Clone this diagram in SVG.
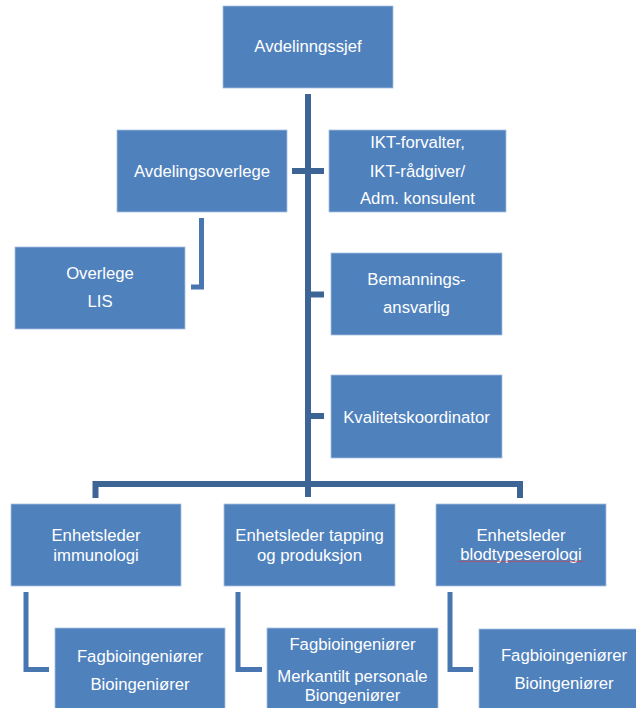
<svg xmlns="http://www.w3.org/2000/svg" width="636" height="708" viewBox="0 0 636 708">
<style>
.box{fill:#4F81BD;stroke:#A9C1E0;stroke-width:0.8}
.t{font-family:"Liberation Sans",Arial,sans-serif;font-size:16.7px;fill:#FFFFFF;text-anchor:middle}
.trunk{fill:none;stroke:#3C6595;stroke-width:6}
.elbow{fill:none;stroke:#4876B0;stroke-width:5}
</style>
<rect width="636" height="708" fill="#FFFFFF"/>
<g id="connectors">
<path class="trunk" d="M308,94 V497"/>
<path class="trunk" d="M292,171 H324"/>
<path class="trunk" d="M308,294.5 H324"/>
<path class="trunk" d="M308,416 H324"/>
<path class="trunk" d="M95.5,498 V484 H520 V498"/>
<path class="elbow" d="M201.5,218 V287 H191"/>
<path class="elbow" d="M26,592 V669.5 H49"/>
<path class="elbow" d="M238,592 V669.5 H262"/>
<path class="elbow" d="M450,592 V669.5 H473"/>
</g>
<g id="avdelingssjef">
<rect class="box" x="223" y="6" width="170" height="82"/>
<text class="t" x="308" y="52">Avdelinngssjef</text>
</g>
<g id="avdelingsoverlege">
<rect class="box" x="117" y="130" width="170" height="82"/>
<text class="t" x="202" y="177">Avdelingsoverlege</text>
</g>
<g id="ikt">
<rect class="box" x="329" y="130" width="177" height="82"/>
<text class="t" x="417.5" y="148">IKT-forvalter,</text>
<text class="t" x="417.5" y="176.5">IKT-rådgiver/</text>
<text class="t" x="417.5" y="204">Adm. konsulent</text>
</g>
<g id="overlege">
<rect class="box" x="15" y="247" width="170" height="82"/>
<text class="t" x="100" y="279">Overlege</text>
<text class="t" x="100" y="307">LIS</text>
</g>
<g id="bemanning">
<rect class="box" x="331" y="253" width="171" height="82"/>
<text class="t" x="416.5" y="285">Bemannings-</text>
<text class="t" x="416.5" y="313">ansvarlig</text>
</g>
<g id="kvalitet">
<rect class="box" x="331" y="375" width="171" height="83"/>
<text class="t" x="416.5" y="422.5">Kvalitetskoordinator</text>
</g>
<g id="enh-immunologi">
<rect class="box" x="11" y="504" width="170" height="82"/>
<text class="t" x="96" y="541">Enhetsleder</text>
<text class="t" x="96" y="561">immunologi</text>
</g>
<g id="enh-tapping">
<rect class="box" x="224" y="504" width="171" height="82"/>
<text class="t" x="309.5" y="541">Enhetsleder tapping</text>
<text class="t" x="309.5" y="561">og produksjon</text>
</g>
<g id="enh-blodtype">
<rect class="box" x="436" y="504" width="170" height="82"/>
<text class="t" x="521" y="541">Enhetsleder</text>
<text class="t" x="521" y="560">blodtypeserologi</text>
<path d="M458,562 l1.5,-1 l1.5,1 l1.5,-1 l1.5,1 l1.5,-1 l1.5,1 l1.5,-1 l1.5,1 l1.5,-1 l1.5,1 l1.5,-1 l1.5,1 l1.5,-1 l1.5,1 l1.5,-1 l1.5,1 l1.5,-1 l1.5,1 l1.5,-1 l1.5,1 l1.5,-1 l1.5,1 l1.5,-1 l1.5,1 l1.5,-1 l1.5,1 l1.5,-1 l1.5,1 l1.5,-1 l1.5,1 l1.5,-1 l1.5,1 l1.5,-1 l1.5,1 l1.5,-1 l1.5,1 l1.5,-1 l1.5,1 l1.5,-1 l1.5,1 l1.5,-1 l1.5,1 l1.5,-1 l1.5,1 l1.5,-1 l1.5,1 l1.5,-1 l1.5,1 l1.5,-1 l1.5,1 l1.5,-1 l1.5,1 l1.5,-1 l1.5,1 l1.5,-1 l1.5,1 l1.5,-1 l1.5,1 l1.5,-1 l1.5,1 l1.5,-1 l1.5,1 l1.5,-1 l1.5,1 l1.5,-1 l1.5,1 l1.5,-1 l1.5,1 l1.5,-1 l1.5,1 l1.5,-1 l1.5,1 l1.5,-1 l1.5,1 l1.5,-1 l1.5,1 l1.5,-1 l1.5,1 l1.5,-1 l1.5,1 l1.5,-1 l1.5,1 l1.5,-1 l1.5,1" fill="none" stroke="#D9413F" stroke-width="0.7"/>
</g>
<g id="staff-immunologi">
<rect class="box" x="55" y="628" width="170" height="82"/>
<text class="t" x="140" y="662">Fagbioingeniører</text>
<text class="t" x="140" y="690">Bioingeniører</text>
</g>
<g id="staff-tapping">
<rect class="box" x="267" y="628" width="171" height="82"/>
<text class="t" x="352.5" y="650">Fagbioingeniører</text>
<text class="t" x="352.5" y="682">Merkantilt personale</text>
<text class="t" x="352.5" y="701">Biongeniører</text>
</g>
<g id="staff-blodtype">
<rect class="box" x="479" y="629" width="170" height="82"/>
<text class="t" x="564" y="661">Fagbioingeniører</text>
<text class="t" x="564" y="689">Bioingeniører</text>
</g>
</svg>
